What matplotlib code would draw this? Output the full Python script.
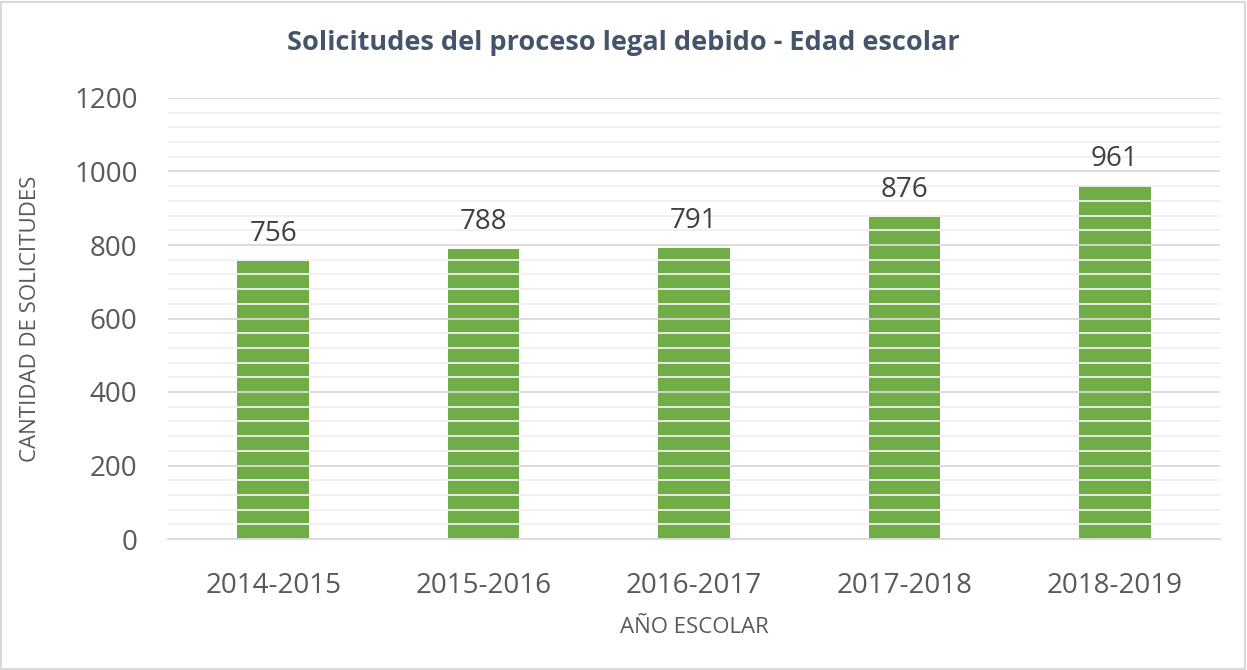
import matplotlib.pyplot as plt
import numpy as np
from matplotlib.ticker import MultipleLocator
from matplotlib.patches import Rectangle

# Datos
anios = ['2014-2015', '2015-2016', '2016-2017', '2017-2018', '2018-2019']
solicitudes = [756, 788, 791, 876, 961]

plt.rcParams['font.family'] = ['Open Sans', 'DejaVu Sans']

fig = plt.figure(figsize=(12.47, 6.7), dpi=100)
ax = fig.add_axes([168 / 1247, 1 - 539 / 670, 1052 / 1247, 441 / 670])

x = np.arange(len(anios))
ax.bar(x, solicitudes, width=0.34, color='#70AD47', zorder=1)

for xi, v in zip(x, solicitudes):
    ax.text(xi, v + 36, str(v), ha='center', va='bottom', fontsize=20, color='#404040', zorder=3)

ax.set_xlim(-0.5, len(anios) - 0.5)
ax.set_ylim(0, 1200)
ax.yaxis.set_major_locator(MultipleLocator(200))
ax.yaxis.set_minor_locator(MultipleLocator(40))
ax.grid(axis='y', which='major', color='#D9D9D9', linewidth=1.3, zorder=2)
ax.grid(axis='y', which='minor', color='#F0F0F0', linewidth=1.3, zorder=2)
ax.set_axisbelow(False)

ax.set_xticks(x)
ax.set_xticklabels(anios)
ax.tick_params(axis='both', which='both', length=0, labelsize=20, labelcolor='#595959')
ax.tick_params(axis='x', pad=24)
ax.tick_params(axis='y', pad=22)
for s in ['top', 'right', 'left']:
    ax.spines[s].set_visible(False)
ax.spines['bottom'].set_color('#D9D9D9')
ax.spines['bottom'].set_linewidth(1.3)

ax.set_xlabel('AÑO ESCOLAR', fontsize=16, color='#595959', labelpad=12)
ax.set_ylabel('CANTIDAD DE SOLICITUDES', fontsize=16, color='#595959', labelpad=24)

fig.text(0.5, 1 - 43 / 670, 'Solicitudes del proceso legal debido - Edad escolar',
         ha='center', va='center', fontsize=19.5, fontweight='bold', color='#44546A')

fig.patches.append(Rectangle((0.001, 0.002), 0.997, 0.995, transform=fig.transFigure,
                             fill=False, edgecolor='#D9D9D9', linewidth=1.5))

fig.savefig('out.png', dpi=100)
